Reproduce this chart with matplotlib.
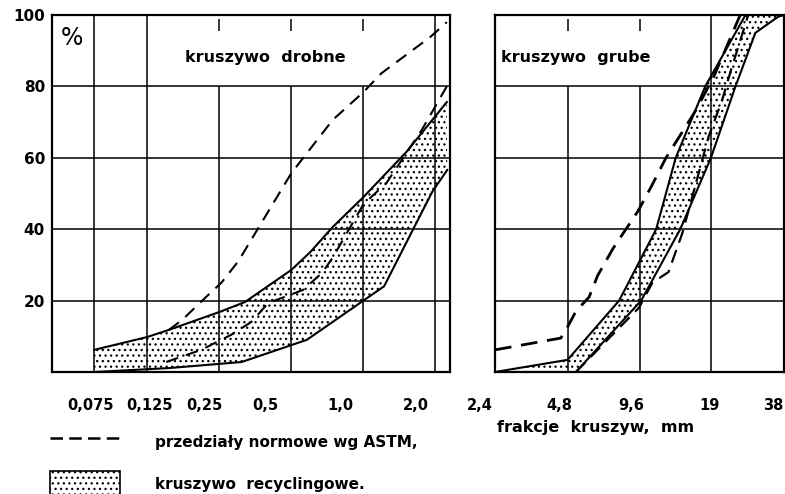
import matplotlib.pyplot as plt
import matplotlib.transforms as mtransforms
from matplotlib.lines import Line2D
from matplotlib.patches import Patch
from matplotlib.ticker import NullLocator

# kruszywo drobne (fine aggregate), sieve size in mm vs % passing
fine_ticks = [0.075, 0.125, 0.25, 0.5, 1.0, 2.0]
fine_labels = ['0,075', '0,125', '0,25', '0,5', '1,0', '2,0']
fine_up_x = [0.075, 0.125, 0.154, 0.25, 0.32, 0.5, 0.6, 0.744, 1.0, 1.51, 2.23]
fine_up_y = [6.2, 9.8, 11.8, 16.8, 19.6, 28.6, 33.6, 40.6, 49, 61.6, 75.6]
fine_lo_x = [0.075, 0.154, 0.31, 0.58, 1.0, 1.22, 1.94, 2.24]
fine_lo_y = [0, 1.1, 2.8, 9, 20, 24, 50.5, 56.6]
astm_fine_hi_x = [0.154, 0.175, 0.22, 0.255, 0.30, 0.5, 0.744, 1.0, 1.19, 1.9, 2.23]
astm_fine_hi_y = [11.8, 14.6, 21, 25, 31, 55.7, 70.6, 78.4, 83.7, 93.8, 98]
astm_fine_lo_x = [0.15, 0.21, 0.28, 0.34, 0.4, 0.56, 0.67, 0.744, 1.0, 1.25, 1.76, 2.23]
astm_fine_lo_y = [2.8, 6.2, 10.4, 14, 19.3, 23, 27.7, 32, 47, 53, 68, 80]

# kruszywo grube (coarse aggregate)
coarse_ticks = [2.4, 4.8, 9.6, 19, 38]
coarse_labels = ['2,4', '4,8', '9,6', '19', '38']
coarse_up_x = [2.4, 4.8, 7.86, 11.2, 13.5, 17.9, 26.3]
coarse_up_y = [0, 3.4, 20, 40, 60, 80, 100]
coarse_lo_x = [2.4, 5.2, 9.7, 14.1, 18.9, 23.9, 28.9, 35.9, 38]
coarse_lo_y = [0, 0, 20, 40, 60, 80, 95, 99.5, 100]
astm_coarse_hi_x = [2.4, 4.5, 4.8, 5.2, 5.9, 6.4, 7.4, 9.4, 10.7, 12.3, 14.0, 16.6, 17.5, 19.5, 25]
astm_coarse_hi_y = [6.2, 9.5, 12.6, 17, 21, 27, 34.5, 45, 52, 60, 66, 74, 77, 83, 100]
astm_coarse_lo_x = [5.2, 9.5, 10.8, 12.6, 14.4, 18.5, 21.0, 23.0, 27.0]
astm_coarse_lo_y = [0, 18, 25, 28, 39, 66, 76, 85, 100]

y_ticks = [20, 40, 60, 80, 100]
y_labels = ['20', '40', '60', '80', '100']

plt.rcParams['hatch.linewidth'] = 0.9
plt.rcParams['font.family'] = 'DejaVu Sans'

fig = plt.figure(figsize=(7.85, 4.94), dpi=100)
ax1 = fig.add_axes([52/785, 122/494, 398/785, 357/494])
ax2 = fig.add_axes([495/785, 122/494, 289/785, 357/494])

def setup(ax, xlim, ticks, labels, nudge):
    ax.set_xscale('log')
    ax.set_xlim(xlim)
    ax.set_ylim(0, 100)
    ax.set_xticks(ticks)
    ax.set_xticklabels(labels, fontsize=10.5, fontweight='bold')
    ax.xaxis.set_minor_locator(NullLocator())
    ax.tick_params(axis='x', length=0, pad=19)
    # hand-lettered labels sit a bit left of their grid lines
    for lab, dx in zip(ax.get_xticklabels(), nudge):
        shift = mtransforms.ScaledTranslation(dx/100, 0, fig.dpi_scale_trans)
        lab.set_transform(lab.get_transform() + shift)
    for s in ax.spines.values():
        s.set_linewidth(1.6)
    ax.hlines([20, 40, 60, 80], xlim[0], xlim[1], color='k', lw=1.1)

setup(ax1, (0.05, 2.3), fine_ticks, fine_labels, [-4, 2, -15, -26, -23, -20])
setup(ax2, (2.4, 38), coarse_ticks, coarse_labels, [-15, -8, -9, -2, -11])

ax1.set_yticks(y_ticks)
ax1.set_yticklabels(y_labels, fontsize=11, fontweight='bold')
ax1.tick_params(axis='y', length=0, pad=5)
ax2.set_yticks([])

# grid verticals: some stop below the caption, with short ticks at top
ax1.vlines([0.075, 0.125, 2.0], 0, 100, color='k', lw=1.1)
ax1.vlines([0.25, 0.5, 1.0], 0, 80, color='k', lw=1.1)
ax1.vlines([0.25, 0.5, 1.0], 95.5, 99, color='k', lw=1.1)
ax2.vlines([19], 0, 100, color='k', lw=1.1)
ax2.vlines([4.8, 9.6], 0, 80, color='k', lw=1.1)
ax2.vlines([4.8, 9.6], 95.5, 99, color='k', lw=1.1)

# recycled aggregate band
ax1.fill(fine_up_x + fine_lo_x[::-1], fine_up_y + fine_lo_y[::-1],
         facecolor='white', edgecolor='k', hatch='...', lw=0)
ax1.plot(fine_up_x, fine_up_y, color='k', lw=1.5)
ax1.plot(fine_lo_x, fine_lo_y, color='k', lw=1.5)
ax1.plot(astm_fine_hi_x, astm_fine_hi_y, color='k', lw=1.5, ls=(0, (6, 4)))
ax1.plot(astm_fine_lo_x, astm_fine_lo_y, color='k', lw=1.5, ls=(0, (6, 4)))

ax2.fill(coarse_up_x + coarse_lo_x[::-1], coarse_up_y + coarse_lo_y[::-1],
         facecolor='white', edgecolor='k', hatch='...', lw=0)
ax2.plot(coarse_up_x, coarse_up_y, color='k', lw=1.5)
ax2.plot(coarse_lo_x, coarse_lo_y, color='k', lw=1.5)
ax2.plot(astm_coarse_hi_x, astm_coarse_hi_y, color='k', lw=2, ls=(0, (6, 3.5)))
ax2.plot(astm_coarse_lo_x, astm_coarse_lo_y, color='k', lw=1.6, ls=(0, (6, 3.5)))

ax1.text(0.05, 0.935, '%', transform=ax1.transAxes, fontsize=17,
         ha='center', va='center')
ax1.text(0.535, 0.88, 'kruszywo  drobne', transform=ax1.transAxes,
         fontsize=11.5, fontweight='bold', ha='center', va='center')
ax2.text(0.02, 0.88, 'kruszywo  grube', transform=ax2.transAxes,
         fontsize=11.5, fontweight='bold', ha='left', va='center')

fig.text(497/785, 1 - 427/494, 'frakcje  kruszyw,  mm', fontsize=11.5,
         fontweight='bold', va='center', ha='left')

handles = [Line2D([], [], color='k', lw=1.8, ls=(0, (5, 2.5))),
           Patch(facecolor='white', edgecolor='k', hatch='...', lw=1.2)]
fig.legend(handles, ['przedziały normowe wg ASTM,', 'kruszywo  recyclingowe.'],
           loc='upper left', bbox_to_anchor=(50/785, 1 - 429/494),
           frameon=False, borderpad=0, borderaxespad=0,
           handlelength=4.6, handleheight=2.3,
           handletextpad=2.3, labelspacing=1.0,
           prop={'size': 11, 'weight': 'bold'})

fig.savefig('out.png', dpi=100)
